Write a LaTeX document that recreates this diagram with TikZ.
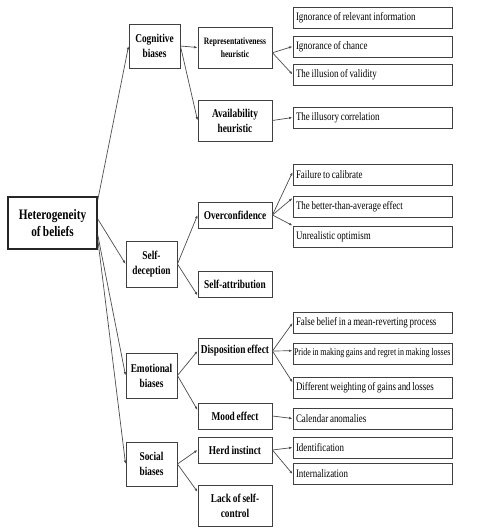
\documentclass[tikz,border=0pt]{standalone}
\usepackage{fontspec}
\setmainfont[FakeStretch=0.78, WordSpace=0.8]{Liberation Serif}
\usetikzlibrary{arrows.meta}
\tikzstyle{rootbox}=[draw=black!85, line width=1.6pt, minimum width=89bp, minimum height=52bp, align=center, inner sep=1pt, font=\fontsize{14.5}{17}\selectfont\bfseries]
\tikzstyle{catbox}=[draw=black!75, line width=0.9pt, minimum width=51bp, minimum height=45bp, align=center, inner sep=1pt, font=\fontsize{12}{15}\selectfont\bfseries]
\tikzstyle{subbox}=[catbox, minimum width=74bp, minimum height=26bp]
\tikzstyle{leafbox}=[draw=black!75, line width=0.9pt, minimum height=21bp, inner sep=2pt, font=\fontsize{11.5}{13}\selectfont]
\tikzstyle{link}=[-{Latex[length=3.5pt,width=2.6pt]}, draw=black!70, line width=0.7pt]
\newcommand{\leaftext}[1]{\makebox[155bp][l]{\hspace{1bp}#1}}

\begin{document}
\begin{tikzpicture}[x=1bp,y=-1bp]
\useasboundingbox (0,0) rectangle (478,529);
% root and first level
\node[rootbox] (het) at (52.5,223) {Heterogeneity\\of beliefs};
\node[catbox, minimum height=44bp] (cog) at (154.5,46) {Cognitive\\biases};
\node[catbox, minimum height=46bp] (sdec) at (151.5,264) {Self-\\deception};
\node[catbox] (emo) at (151.5,375.5) {Emotional\\biases};
\node[catbox, minimum height=44bp] (soc) at (151.5,464) {Social\\biases};
% second level
\node[subbox, minimum height=41bp, font=\fontsize{9.8}{13}\selectfont\bfseries] (rep) at (235,47.5) {Representativeness\\heuristic};
\node[subbox, minimum height=41bp] (avail) at (235,120.5) {Availability\\heuristic};
\node[subbox] (over) at (235,215) {Overconfidence};
\node[subbox] (sattr) at (235,284) {Self-attribution};
\node[subbox] (disp) at (235,351) {Disposition effect};
\node[subbox] (mood) at (235,416) {Mood effect};
\node[subbox] (herd) at (235,450) {Herd instinct};
\node[subbox, minimum height=41bp] (lack) at (235,505.5) {Lack of self-\\control};
% third level
\foreach \nm/\yy/\txt in {ignrel/17.5/Ignorance of relevant information,
	ignch/46.5/Ignorance of chance,
	illval/74.5/The illusion of validity,
	illcor/117.5/The illusory correlation,
	fail/175/Failure to calibrate,
	better/206.5/The better-than-average effect,
	unreal/236.5/Unrealistic optimism,
	falseb/323/False belief in a mean-reverting process,
	diffw/388/Different weighting of gains and losses,
	calen/418.5/Calendar anomalies,
	ident/447.5/Identification,
	intern/474/Internalization} {
	\node[leafbox] (\nm) at (372.5,\yy) {\leaftext{\txt}};
}
\node[leafbox, font=\fontsize{10.3}{12}\selectfont, inner xsep=1pt] (pride) at (372.5,353.5) {\makebox[157bp][l]{Pride in making gains and regret in making losses}};
% connectors
\draw[link] (het.27) -- (cog.west);
\draw[link] (het.5) -- (sdec.west);
\draw[link] (het.-15) -- (emo.west);
\draw[link] (het.-20) -- (soc.west);
\foreach \a/\b in {cog/rep.west, cog/avail.west, sdec/over.west, sdec/sattr.197,
	emo/disp.west, emo/mood.171, soc/herd.west, soc/lack.160} {
	\draw[link] (\a.east) -- (\b);
}
\foreach \a/\b in {rep.-8/ignch.west, rep.-8/illval.west, avail.east/illcor.west,
	over.east/fail.178, over.east/better.174, over.east/unreal.north west,
	disp.east/falseb.west, disp.east/pride.178, disp.east/diffw.176,
	mood.east/calen.west, herd.east/ident.west, herd.east/intern.west} {
	\draw[link] (\a) -- (\b);
}
\end{tikzpicture}
\end{document}
